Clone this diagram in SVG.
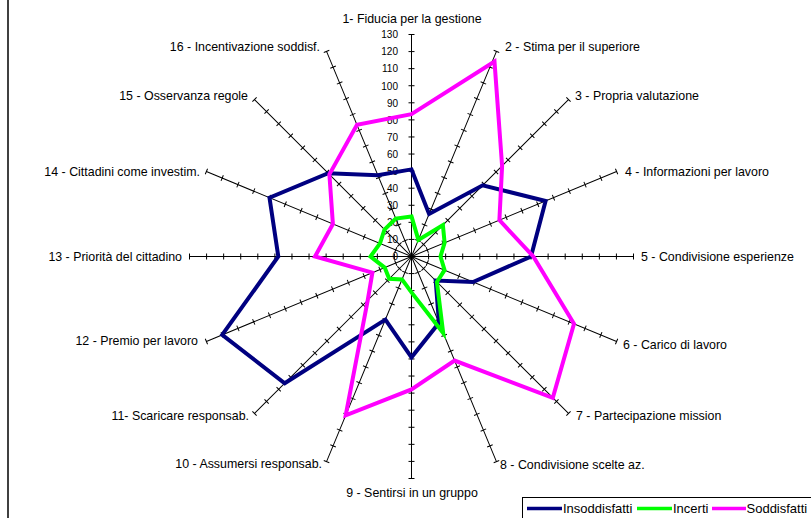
<svg xmlns="http://www.w3.org/2000/svg" xmlns:xlink="http://www.w3.org/1999/xlink" width="811" height="518" viewBox="0 0 811 518">
<style>
text{font-family:"Liberation Sans",Arial,sans-serif;fill:#000}
.lbl{font-size:12.4px}
.tk{font-size:10px;text-anchor:end}
.ax{stroke:#000;stroke-width:1;fill:none}
.ser{fill:none;stroke-width:4;stroke-linejoin:miter}
.leg{font-size:13px}
</style>
<defs>
<path id="axis" class="ax" d="M411.5 256.5V34.5M408.5 239.42H414.5M408.5 222.35H414.5M408.5 205.27H414.5M408.5 188.19H414.5M408.5 171.12H414.5M408.5 154.04H414.5M408.5 136.96H414.5M408.5 119.88H414.5M408.5 102.81H414.5M408.5 85.73H414.5M408.5 68.65H414.5M408.5 51.58H414.5M408.5 34.5H414.5"/>
</defs>
<rect width="811" height="518" fill="#fff"/>
<line x1="8" y1="0" x2="8" y2="518" stroke="#000" stroke-width="1.5"/>
<g id="axes">
<use xlink:href="#axis" style="stroke-width:1.4"/>
<use xlink:href="#axis" transform="rotate(22.5 411.5 256.5)"/>
<use xlink:href="#axis" transform="rotate(45 411.5 256.5)"/>
<use xlink:href="#axis" transform="rotate(67.5 411.5 256.5)"/>
<use xlink:href="#axis" transform="rotate(90 411.5 256.5)"/>
<use xlink:href="#axis" transform="rotate(112.5 411.5 256.5)"/>
<use xlink:href="#axis" transform="rotate(135 411.5 256.5)"/>
<use xlink:href="#axis" transform="rotate(157.5 411.5 256.5)"/>
<use xlink:href="#axis" transform="rotate(180 411.5 256.5)"/>
<use xlink:href="#axis" transform="rotate(202.5 411.5 256.5)"/>
<use xlink:href="#axis" transform="rotate(225 411.5 256.5)"/>
<use xlink:href="#axis" transform="rotate(247.5 411.5 256.5)"/>
<use xlink:href="#axis" transform="rotate(270 411.5 256.5)"/>
<use xlink:href="#axis" transform="rotate(292.5 411.5 256.5)"/>
<use xlink:href="#axis" transform="rotate(315 411.5 256.5)"/>
<use xlink:href="#axis" transform="rotate(337.5 411.5 256.5)"/>
</g>
<g id="ticklabels" class="tk">
<text x="398" y="260">0</text>
<text x="398" y="243">10</text>
<text x="398" y="226">20</text>
<text x="398" y="209">30</text>
<text x="398" y="192">40</text>
<text x="398" y="175">50</text>
<text x="398" y="158">60</text>
<text x="398" y="140.5">70</text>
<text x="398" y="123.5">80</text>
<text x="398" y="106.5">90</text>
<text x="398" y="89.5">100</text>
<text x="398" y="72">110</text>
<text x="398" y="55">120</text>
<text x="398" y="38">130</text>
</g>
<g id="series">
<polygon id="insoddisfatti" class="ser" stroke="#000080" points="411.5,169.4 429.1,213.9 482.7,185.3 545.6,201 531,256.5 473,282 435.7,280.6 439,322.8 411.5,357.3 385.4,319.6 284.7,383.3 222.2,334.9 278.3,256.5 269.5,197.7 328.2,173.2 377.8,175.2"/>
<polygon id="incerti" class="ser" stroke="#00FF00" points="411.5,216.4 418.4,239.9 442.9,225.1 444.6,242.8 440.5,256.5 444.6,270.2 436.9,281.9 443.2,333 411.5,292.4 402,279.4 389.2,278.8 384.7,267.6 370.5,256.5 380,243.4 384.5,229.5 395.8,218.6"/>
<polygon id="soddisfatti" class="ser" stroke="#FF00FF" points="411.5,114.1 494.5,61.5 502.1,165.9 499.4,220.1 533.3,256.5 574,323.8 552.8,397.8 454.6,360.6 411.5,389.4 345.7,415.4 367.7,300.3 372.4,272.7 315,256.5 332.9,224 329.4,174.4 357,124.9"/>
</g>
<g id="labels" class="lbl">
<text id="l1" x="412" y="23" text-anchor="middle">1- Fiducia per la gestione</text>
<text id="l2" x="505" y="51">2 - Stima per il superiore</text>
<text id="l3" x="575" y="100">3 - Propria valutazione</text>
<text id="l4" x="625" y="176">4 - Informazioni per lavoro</text>
<text id="l5" x="641" y="261">5 - Condivisione esperienze</text>
<text id="l6" x="623" y="348.5">6 - Carico di lavoro</text>
<text id="l7" x="576" y="420">7 - Partecipazione mission</text>
<text id="l8" x="500" y="469">8 - Condivisione scelte az.</text>
<text id="l9" x="412" y="497" text-anchor="middle">9 - Sentirsi in un gruppo</text>
<text id="l10" x="322" y="467.5" text-anchor="end">10 - Assumersi responsab.</text>
<text id="l11" x="249" y="420" text-anchor="end">11- Scaricare responsab.</text>
<text id="l12" x="198" y="344.5" text-anchor="end">12 - Premio per lavoro</text>
<text id="l13" x="182" y="260.5" text-anchor="end">13 - Priorità del cittadino</text>
<text id="l14" x="200" y="176" text-anchor="end">14 - Cittadini come investim.</text>
<text id="l15" x="248" y="100" text-anchor="end">15 - Osservanza regole</text>
<text id="l16" x="320" y="51" text-anchor="end">16 - Incentivazione soddisf.</text>
</g>
<g id="legend">
<rect x="522.5" y="497.5" width="300" height="30" fill="#fff" stroke="#000" stroke-width="1"/>
<line x1="527" y1="508.5" x2="562" y2="508.5" stroke="#000080" stroke-width="3.5"/>
<text class="leg" x="563" y="513">Insoddisfatti</text>
<line x1="637" y1="508.5" x2="672" y2="508.5" stroke="#00FF00" stroke-width="3.5"/>
<text class="leg" x="673" y="513">Incerti</text>
<line x1="712" y1="508.5" x2="746" y2="508.5" stroke="#FF00FF" stroke-width="3.5"/>
<text class="leg" x="746.5" y="513">Soddisfatti</text>
</g>
</svg>
